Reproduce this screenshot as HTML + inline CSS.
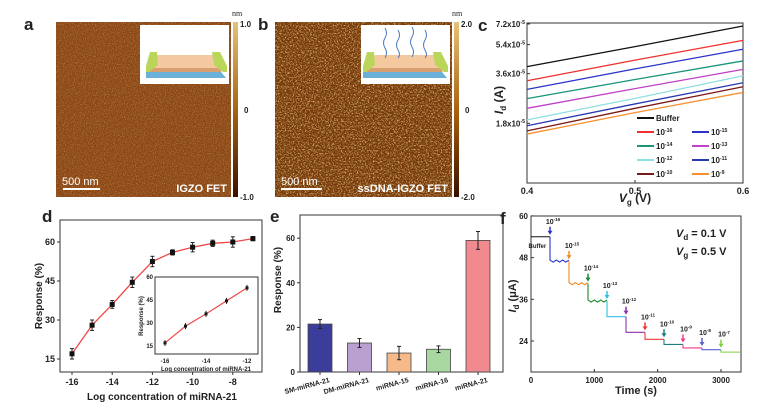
<!DOCTYPE html>
<html><head><meta charset="utf-8"><style>
body{margin:0;background:#fff;}
svg{display:block;font-family:"Liberation Sans",sans-serif;}
text{font-weight:bold;fill:#222;}
</style></head><body>
<svg id="fig" width="757" height="409" viewBox="0 0 757 409">
<defs>
<filter id="afmA" x="0" y="0" width="100%" height="100%">
<feTurbulence type="fractalNoise" baseFrequency="0.9" numOctaves="2" seed="3"/>
<feColorMatrix type="matrix" values="0 0 0 0 0.78  0 0 0 0 0.5  0 0 0 0 0.2  2.2 0 0 0 -1.0"/>
</filter>
<filter id="afmB" x="0" y="0" width="100%" height="100%">
<feTurbulence type="fractalNoise" baseFrequency="0.75" numOctaves="2" seed="7"/>
<feColorMatrix type="matrix" values="0 0 0 0 0.92  0 0 0 0 0.72  0 0 0 0 0.3  3.2 0 0 0 -1.5"/>
</filter>
<linearGradient id="cbar" x1="0" y1="0" x2="0" y2="1">
<stop offset="0" stop-color="#e6c27a"/><stop offset="0.5" stop-color="#a86412"/><stop offset="1" stop-color="#3a1000"/>
</linearGradient>
</defs>

<!-- Panel a -->
<text x="24" y="30" font-size="17">a</text>
<g>
<rect x="56" y="22" width="175" height="175" fill="#8a4614"/>
<rect x="56" y="22" width="175" height="175" filter="url(#afmA)" opacity="0.6"/>
</g>
<g>
<rect x="140" y="25" width="89" height="59" fill="#fff"/>
<polygon points="146,72 221,72 226,78 146,78" fill="#6ab0d8"/>
<polygon points="157,55 214,55 223,68 146,68" fill="#f5c9a0"/>
<polygon points="146,68 223,68 221,72 146,72" fill="#d8a070"/>
<polygon points="150,52 157,52 158,65 149,72 146,72 146,66" fill="#b9d65a"/>
<polygon points="212,52 220,52 227,66 227,72 223,72 214,65" fill="#b9d65a"/>
</g>
<line x1="63" y1="189" x2="100" y2="189" stroke="#fff" stroke-width="2"/>
<text x="62" y="185" font-size="11" style="fill:#fff;font-weight:normal">500 nm</text>
<text x="227" y="192" font-size="11" text-anchor="end" style="fill:#fff">IGZO FET</text>
<rect x="233" y="22" width="5" height="175" fill="url(#cbar)"/>
<text x="232" y="16" font-size="8" font-family="Liberation Serif" style="font-weight:normal">nm</text>
<text x="240" y="27" font-size="8">1.0</text>
<text x="244" y="113" font-size="8">0</text>
<text x="240" y="200" font-size="8">-1.0</text>

<!-- Panel b -->
<text x="258" y="30" font-size="17">b</text>
<g>
<rect x="275" y="22" width="177" height="175" fill="#743608"/>
<rect x="275" y="22" width="177" height="175" filter="url(#afmB)" opacity="0.85"/>
</g>
<g>
<rect x="361" y="25" width="89" height="59" fill="#fff"/>
<polygon points="363,72 442,72 447,78 363,78" fill="#6ab0d8"/>
<polygon points="375,55 435,55 444,68 363,68" fill="#f5c9a0"/>
<polygon points="363,68 444,68 442,72 363,72" fill="#d8a070"/>
<polygon points="367,52 374,52 375,65 366,72 363,72 363,66" fill="#b9d65a"/>
<polygon points="433,52 441,52 448,66 448,72 444,72 435,65" fill="#b9d65a"/>
<path d="M385,28 q3,5 0,10 q-3,5 0,10 q3,5 0,10 M398,30 q3,5 0,10 q-3,5 0,10 q3,5 0,8 M412,27 q3,5 0,10 q-3,5 0,10 q3,5 0,10 M425,30 q3,5 0,10 q-3,5 0,10 q3,5 0,8" stroke="#4a78c0" fill="none" stroke-width="1"/>
</g>
<line x1="281" y1="189" x2="322" y2="189" stroke="#fff" stroke-width="2"/>
<text x="281" y="185" font-size="11" style="fill:#fff;font-weight:normal">500 nm</text>
<text x="448" y="192" font-size="11" text-anchor="end" style="fill:#fff">ssDNA-IGZO FET</text>
<rect x="454" y="22" width="5" height="175" fill="url(#cbar)"/>
<text x="452" y="16" font-size="8" font-family="Liberation Serif" style="font-weight:normal">nm</text>
<text x="461" y="27" font-size="8">2.0</text>
<text x="465" y="113" font-size="8">0</text>
<text x="461" y="200" font-size="8">-2.0</text>

<g id="pc"></g><g id="pd"></g><g id="pe"></g><g id="pf"></g>
</svg>
<script>
// ---- Panel c data ----
const cVg = [0.4, 0.5, 0.6];
const cSeriesNames = ["Buffer","10-16","10-15","10-14","10-13","10-12","10-11","10-10","10-9"];
const cBuffer = [3.97, 5.25, 7.0];
const c16 = [3.26, 4.35, 5.73];
const c15 = [2.89, 3.85, 5.06];
const c14 = [2.54, 3.32, 4.30];
const c13 = [2.22, 2.92, 3.82];
const c12 = [1.89, 2.55, 3.49];
const c11 = [1.74, 2.36, 3.17];
const c10 = [1.62, 2.22, 3.0];
const c9 = [1.55, 2.09, 2.77];
const cTicks = [1.8, 3.6, 5.4, 7.2];
const cXTicks = [0.4, 0.5, 0.6];
// ---- Panel d data ----
const dX = [-16,-15,-14,-13,-12,-11,-10,-9,-8,-7];
const dY = [17,28,36,44.5,52.5,56,58,59.5,60,61.3];
const dErr = [2,2,1.5,2,2,1,1.8,1.2,2,0.8];
const dInsetX = [-16,-15,-14,-13,-12];
const dInsetY = [17,28,36,44.5,53];
const dXTicks = [-16,-14,-12,-10,-8];
const dYTicks = [15,30,45,60];
// ---- Panel e data ----
const eCats = ["SM-miRNA-21","DM-miRNA-21","miRNA-15","miRNA-16","miRNA-21"];
const eVals = [21.5,13,8.5,10.2,59];
const eErrs = [2,2,3,1.5,4];
const eYTicks = [0,20,40,60];
// ---- Panel f data ----
const fStepStart = [0,300,600,900,1200,1500,1800,2100,2400,2700,3000];
const fStepLevel = [54,47,40.5,35.5,31,26.5,24.5,23,22,21.5,20.8];
const fStepLabels = ["Buffer","10-16","10-15","10-14","10-13","10-12","10-11","10-10","10-9","10-8","10-7"];
const fYTicks = [24,36,48,60];
const fXTicks = [0,1000,2000,3000];

const NS="http://www.w3.org/2000/svg";
function mk(parent,tag,attrs){const e=document.createElementNS(NS,tag);for(const k in attrs)e.setAttribute(k,attrs[k]);parent.appendChild(e);return e;}
function txt(parent,x,y,s,size,anchor,extra){const t=mk(parent,"text",Object.assign({x:x,y:y,"font-size":size,"text-anchor":anchor||"start"},extra||{}));t.textContent=s;return t;}
function pow(parent,x,y,base,exp,size,anchor){const t=mk(parent,"text",{x:x,y:y,"font-size":size,"text-anchor":anchor||"start"});t.appendChild(document.createTextNode(base));const ts=mk(t,"tspan",{dy:-size*0.4,"font-size":size*0.65});ts.textContent=exp;return t;}

// ===== Panel c =====
(function(){
const g=document.getElementById("pc");
const X0=527,X1=743,Y0=23,Y1=183;
const sx=v=>X0+(v-0.4)/0.2*(X1-X0);
const sy=v=>24+(Math.log10(7.2)-Math.log10(v))*165;
txt(g,478,31,"c",17,"start");
const fr=mk(g,"rect",{x:X0,y:Y0,width:X1-X0,height:Y1-Y0,fill:"none",stroke:"#333","stroke-width":1});

const series=[cBuffer,c16,c15,c14,c13,c12,c11,c10,c9];
const cols=["#111","#f03030","#2a35c8","#18957a","#c040c8","#8ee0e0","#2a3ab0","#7a1a1a","#f59030"];
series.forEach((s,i)=>{
 const p=mk(g,"polyline",{points:s.map((v,j)=>sx(cVg[j])+","+sy(v)).join(" "),fill:"none",stroke:cols[i],"stroke-width":1.3});
 
});
cTicks.forEach(v=>{const y=sy(v);mk(g,"line",{x1:X0,y1:y,x2:X0+3,y2:y,stroke:"#333"});
 const t=pow(g,X0-2,y+3,v.toFixed(1)+"x10","-5",8,"end");});
cXTicks.forEach(v=>{const x=sx(v);mk(g,"line",{x1:x,y1:Y1,x2:x,y2:Y1-3,stroke:"#333"});
 const t=txt(g,x,Y1+11,v.toFixed(1),9,"middle");});
const xt=mk(g,"text",{x:635,y:202,"font-size":12,"text-anchor":"middle"});xt.innerHTML='<tspan font-style="italic">V</tspan><tspan font-size="8" dy="3">g</tspan><tspan dy="-3"> (V)</tspan>';

const yt=mk(g,"text",{x:0,y:0,"font-size":12,"text-anchor":"middle",transform:"translate(503,100) rotate(-90)"});yt.innerHTML='<tspan font-style="italic">I</tspan><tspan font-size="8" dy="3">d</tspan><tspan dy="-3"> (A)</tspan>';

const lg=[[0,0],[0,1],[1,1],[0,2],[1,2],[0,3],[1,3],[0,4],[1,4]];
lg.forEach((p,i)=>{const lx=p[0]?692:637,ly=118+p[1]*14;
 const l=mk(g,"line",{x1:lx,y1:ly,x2:lx+17,y2:ly,stroke:cols[i],"stroke-width":2});
 
 let t;if(i==0)t=txt(g,lx+19,ly+3,"Buffer",8,"start");else t=pow(g,lx+19,ly+3,"10",cSeriesNames[i].slice(2),8,"start");
 });
})();

// ===== Panel d =====
(function(){
const g=document.getElementById("pd");
const X0=60,X1=262,Y0=220,Y1=372;
const sx=v=>72+(v+16)*20.1;
const sy=v=>359-(v-15)*2.6;
txt(g,42,222,"d",17);
mk(g,"rect",{x:X0,y:Y0,width:X1-X0,height:Y1-Y0,fill:"none",stroke:"#333"});
mk(g,"polyline",{points:dX.map((x,i)=>sx(x)+","+sy(dY[i])).join(" "),fill:"none",stroke:"#f04848","stroke-width":1.3});
dX.forEach((x,i)=>{const cx=sx(x),cy=sy(dY[i]),e=dErr[i]*2.6;
 mk(g,"line",{x1:cx,y1:cy-e,x2:cx,y2:cy+e,stroke:"#222"});
 mk(g,"line",{x1:cx-2,y1:cy-e,x2:cx+2,y2:cy-e,stroke:"#222"});mk(g,"line",{x1:cx-2,y1:cy+e,x2:cx+2,y2:cy+e,stroke:"#222"});
 const r=mk(g,"rect",{x:cx-2.5,y:cy-2.5,width:5,height:5,fill:"#111"});
 });
dXTicks.forEach(v=>{const x=sx(v);mk(g,"line",{x1:x,y1:Y1,x2:x,y2:Y1+3,stroke:"#333"});txt(g,x,Y1+13,String(v),9,"middle");});
dYTicks.forEach(v=>{const y=sy(v);mk(g,"line",{x1:X0,y1:y,x2:X0-3,y2:y,stroke:"#333"});txt(g,X0-5,y+3,String(v),9,"end");});
const xt=txt(g,162,400,"Log concentration of miRNA-21",10,"middle");
const yt=txt(g,0,0,"Response (%)",10,"middle",{transform:"translate(42,296) rotate(-90)"});
const ix=v=>165+(v+16)*20.5, iy=v=>346-(v-15)*1.53;
const ir=mk(g,"rect",{x:155,y:277,width:103,height:77,fill:"#fff",stroke:"#333"});
mk(g,"polyline",{points:dInsetX.map((x,i)=>ix(x)+","+iy(dInsetY[i])).join(" "),fill:"none",stroke:"#f04848","stroke-width":1.2});
dInsetX.forEach((x,i)=>{mk(g,"rect",{x:ix(x)-1.5,y:iy(dInsetY[i])-1.5,width:3,height:3,fill:"#111"});
 mk(g,"line",{x1:ix(x),y1:iy(dInsetY[i])-3,x2:ix(x),y2:iy(dInsetY[i])+3,stroke:"#222"});});
[-16,-14,-12].forEach(v=>txt(g,ix(v),363,String(v),6,"middle"));
[15,30,45,60].forEach(v=>txt(g,153,iy(v)+2,String(v),6,"end"));
txt(g,206,371,"Log concentration of miRNA-21",6,"middle");
txt(g,0,0,"Response (%)",6,"middle",{transform:"translate(143,316) rotate(-90)"});
})();

// ===== Panel e =====
(function(){
const g=document.getElementById("pe");
const X0=300,X1=503,Y0=215,Y1=372;
const sy=v=>Y1-v*2.23;
const sx=i=>320+i*39.5;
const cols=["#3a3d9a","#b9a0d0","#f6b98a","#a8d8a0","#f08a8e"];
txt(g,270,222,"e",17);
mk(g,"rect",{x:X0,y:Y0,width:X1-X0,height:Y1-Y0,fill:"none",stroke:"#333"});
eVals.forEach((v,i)=>{const b=mk(g,"rect",{x:sx(i)-12,y:sy(v),width:24,height:Y1-sy(v),fill:cols[i],stroke:"#444","stroke-width":0.8});
 
 const e=eErrs[i];mk(g,"line",{x1:sx(i),y1:sy(v+e),x2:sx(i),y2:sy(v-e),stroke:"#222"});
 mk(g,"line",{x1:sx(i)-2,y1:sy(v+e),x2:sx(i)+2,y2:sy(v+e),stroke:"#222"});mk(g,"line",{x1:sx(i)-2,y1:sy(v-e),x2:sx(i)+2,y2:sy(v-e),stroke:"#222"});
 mk(g,"line",{x1:sx(i),y1:Y1,x2:sx(i),y2:Y1+3,stroke:"#333"});
 const t=txt(g,0,0,eCats[i],7,"end",{transform:"translate("+(sx(i)+10)+","+(Y1+10)+") rotate(-15)"});});
eYTicks.forEach(v=>{const y=sy(v);mk(g,"line",{x1:X0,y1:y,x2:X0-3,y2:y,stroke:"#333"});txt(g,X0-5,y+3,String(v),8,"end");});
const yt=txt(g,0,0,"Response (%)",10,"middle",{transform:"translate(281,280) rotate(-90)"});
})();

// ===== Panel f =====
(function(){
const g=document.getElementById("pf");
const X0=531,X1=741,Y0=216,Y1=372;
const sx=v=>X0+v*190/3000;
const sy=v=>341-(v-24)*41.7/12;
const cols=["#111","#2a35c8","#f08a20","#1a8a30","#30c0e0","#9030b0","#f03a3a","#1a8080","#f03a8a","#5a60d0","#80d040"];
txt(g,500,224,"f",17);
mk(g,"rect",{x:X0,y:Y0,width:X1-X0,height:Y1-Y0,fill:"none",stroke:"#333"});
fStepStart.forEach((t0,i)=>{const t1=i<fStepStart.length-1?fStepStart[i+1]:3300;const lv=fStepLevel[i];
 const pts=[];const prev=i>0?fStepLevel[i-1]:lv;pts.push(sx(t0)+","+sy(prev));
 for(let t=t0;t<=t1;t+=50){const w=(i<4&&i>0)?(((t/50)%2<1)?0.3:-0.3):0;pts.push(sx(t)+","+sy(lv+w));}
 const p=mk(g,"polyline",{points:pts.join(" "),fill:"none",stroke:cols[i],"stroke-width":1.1});
 
 if(i>0){const ax=sx(t0),ay=sy(prev)-4;mk(g,"line",{x1:ax,y1:ay-6,x2:ax,y2:ay,stroke:cols[i],"stroke-width":1.5});
  mk(g,"polygon",{points:(ax-2.5)+","+(ay-2)+" "+(ax+2.5)+","+(ay-2)+" "+ax+","+(ay+2),fill:cols[i]});
  pow(g,ax+3,ay-9,"10",fStepLabels[i].slice(2),7,"middle");}
 else{txt(g,sx(100),sy(lv)+11,"Buffer",6,"middle");}});
fYTicks.forEach(v=>{const y=sy(v);mk(g,"line",{x1:X0,y1:y,x2:X0+3,y2:y,stroke:"#333"});txt(g,X0-3,y+3,String(v),8,"end");});
fXTicks.forEach(v=>{const x=sx(v);mk(g,"line",{x1:x,y1:Y1,x2:x,y2:Y1-3,stroke:"#333"});txt(g,x,Y1+11,String(v),8,"middle");});
const xt=txt(g,636,394,"Time (s)",11,"middle");
const yt=mk(g,"text",{x:0,y:0,"font-size":11,"text-anchor":"middle",transform:"translate(516,296) rotate(-90)"});yt.innerHTML='<tspan font-style="italic">I</tspan><tspan font-size="8" dy="3">d</tspan><tspan dy="-3"> (μA)</tspan>';

const a=mk(g,"text",{x:676,y:237,"font-size":11});a.innerHTML='<tspan font-style="italic">V</tspan><tspan font-size="8" dy="3">d</tspan><tspan dy="-3"> = 0.1 V</tspan>';
const b=mk(g,"text",{x:676,y:255,"font-size":11});b.innerHTML='<tspan font-style="italic">V</tspan><tspan font-size="8" dy="3">g</tspan><tspan dy="-3"> = 0.5 V</tspan>';
})();
</script>
</body></html>
